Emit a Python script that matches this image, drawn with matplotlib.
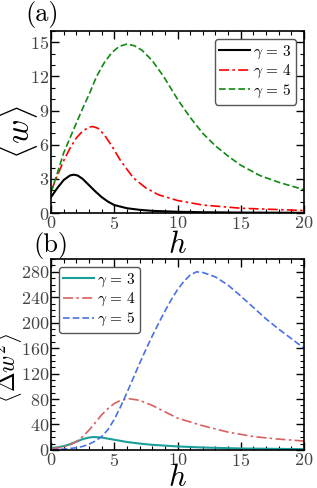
import matplotlib
matplotlib.use("Agg")
import matplotlib.pyplot as plt
from matplotlib.ticker import MultipleLocator

plt.rcParams["font.family"] = "serif"
plt.rcParams["font.serif"] = ["cmr10"]
plt.rcParams["mathtext.fontset"] = "cm"
plt.rcParams["axes.formatter.use_mathtext"] = True

# panel (a): <w> vs h
h3a = [0, 0.5, 1.0, 1.5, 1.8, 2.1, 2.5, 3.0, 3.5, 4.0, 4.5, 5.0, 6.0, 7.0, 8.0, 10, 12, 15, 20]
w3 = [1.4, 2.2, 2.9, 3.3, 3.37, 3.3, 3.0, 2.45, 1.9, 1.4, 1.0, 0.7, 0.42, 0.28, 0.19, 0.11, 0.07, 0.04, 0.02]
h4a = [0, 0.5, 1.0, 1.5, 2.0, 2.5, 3.0, 3.3, 3.7, 4.2, 4.8, 5.5, 6.5, 7.5, 8.5, 10, 12, 15, 20]
w4 = [1.9, 3.3, 4.6, 5.7, 6.6, 7.2, 7.55, 7.6, 7.45, 6.9, 5.9, 4.6, 3.1, 2.2, 1.6, 1.1, 0.7, 0.42, 0.22]
h5a = [0, 0.5, 1.0, 1.5, 2.0, 2.5, 3.0, 3.6, 4.2, 4.8, 5.4, 6.0, 6.6, 7.2, 8.0, 8.9, 10, 11, 12, 13, 14, 15, 16.5, 18, 20]
w5 = [1.8, 3.5, 5.3, 6.6, 7.9, 9.2, 10.4, 12.0, 13.2, 14.1, 14.65, 14.85, 14.7, 14.3, 13.4, 12.0, 10.0, 8.4, 7.0, 5.9, 5.0, 4.2, 3.3, 2.7, 2.05]

# panel (b): <Δw²> vs h
h3b = [0, 0.5, 1.0, 1.5, 2.0, 2.5, 3.0, 3.4, 4.0, 5.0, 6.0, 7.0, 8.0, 10, 12, 15, 20]
d3 = [3, 4, 6, 9, 13, 17, 19.5, 20.3, 19.5, 16, 12.5, 10, 8, 5.5, 3.8, 2.3, 1.2]
h4b = [0, 0.5, 1.0, 1.5, 2.0, 2.5, 3.0, 3.5, 4.0, 4.5, 5.0, 5.5, 6.2, 7.0, 8.0, 9.0, 10, 12, 14, 16, 18, 20]
d4 = [2, 3, 5, 8, 13, 21, 31, 43, 55, 65, 73, 78, 80.5, 78, 70, 60, 50, 38, 28, 21, 17, 14]
h5b = [0, 0.5, 1.0, 1.5, 2.0, 2.5, 3.0, 3.5, 4.0, 4.5, 5.0, 5.5, 6.0, 6.5, 7.0, 7.5, 8.0, 8.5, 9.0, 9.5, 10, 10.5, 11, 11.5, 12, 13, 14, 15, 16, 17, 18, 19, 20]
d5 = [0.5, 0.8, 1.3, 2.2, 3.5, 5.5, 9, 14, 21, 32, 48, 68, 90, 113, 136, 158, 179, 199, 218, 236, 252, 265, 275, 280, 279, 272, 259, 242, 224, 206, 190, 175, 160]

label_g = [r"$\gamma\,=\,3$", r"$\gamma\,=\,4$", r"$\gamma\,=\,5$"]

fig = plt.figure(figsize=(3.17, 4.88), dpi=100)
ax1 = fig.add_axes([0.161, 0.5635, 0.798, 0.373])
ax2 = fig.add_axes([0.161, 0.078, 0.798, 0.391])

leg_kw = dict(fontsize=11, handlelength=2.0, handletextpad=0.2, borderpad=0.3,
              labelspacing=0.15, framealpha=1, edgecolor="#555555", fancybox=True,
              borderaxespad=0.5)

ax1.plot(h3a, w3, color="black", lw=1.5, ls="-", label=label_g[0])
ax1.plot(h4a, w4, color="red", lw=1.2, ls=(0, (6, 2, 1.5, 2)), label=label_g[1])
ax1.plot(h5a, w5, color="#118811", lw=1.2, ls=(0, (4, 1.8)), label=label_g[2])
ax1.set_xlim(0, 20)
ax1.set_ylim(0, 16)
ax1.yaxis.set_major_locator(MultipleLocator(3))
ax1.yaxis.set_minor_locator(MultipleLocator(1))
ax1.set_ylabel(r"$\langle w \rangle$", fontsize=24)
ax1.yaxis.set_label_coords(-0.043, 0.445)
ax1.set_xlabel(r"$h$", fontsize=22)
ax1.xaxis.set_label_coords(0.498, -0.1)
ax1.legend(loc="upper right", **leg_kw)

ax2.plot(h3b, d3, color="#1a9e9a", lw=1.5, ls="-", label=label_g[0])
ax2.plot(h4b, d4, color="#d96060", lw=1.2, ls=(0, (6, 2, 1.5, 2)), label=label_g[1])
ax2.plot(h5b, d5, color="#4a70e8", lw=1.2, ls=(0, (4, 1.8)), label=label_g[2])
ax2.set_xlim(0, 20)
ax2.set_ylim(0, 300)
ax2.yaxis.set_major_locator(MultipleLocator(40))
ax2.yaxis.set_minor_locator(MultipleLocator(10))
ax2.set_ylabel(r"$\langle \Delta w^2 \rangle$", fontsize=17)
ax2.yaxis.set_label_coords(-0.105, 0.43)
ax2.set_xlabel(r"$h$", fontsize=22)
ax2.xaxis.set_label_coords(0.498, -0.075)
ax2.legend(loc="upper left", **leg_kw)

for ax in (ax1, ax2):
    ax.xaxis.set_major_locator(MultipleLocator(5))
    ax.xaxis.set_minor_locator(MultipleLocator(1))
    ax.tick_params(which="both", direction="in", top=True, right=True,
                   labelsize=13, labelcolor="#444444", pad=1.5)
    ax.tick_params(which="major", length=6, width=1)
    ax.tick_params(which="minor", length=3, width=0.8)
    for s in ax.spines.values():
        s.set_linewidth(1.2)

fig.text(0.079, 0.997, "(a)", fontsize=19, va="top")
fig.text(0.104, 0.525, "(b)", fontsize=19, va="top")

fig.savefig("out.png", dpi=100)
